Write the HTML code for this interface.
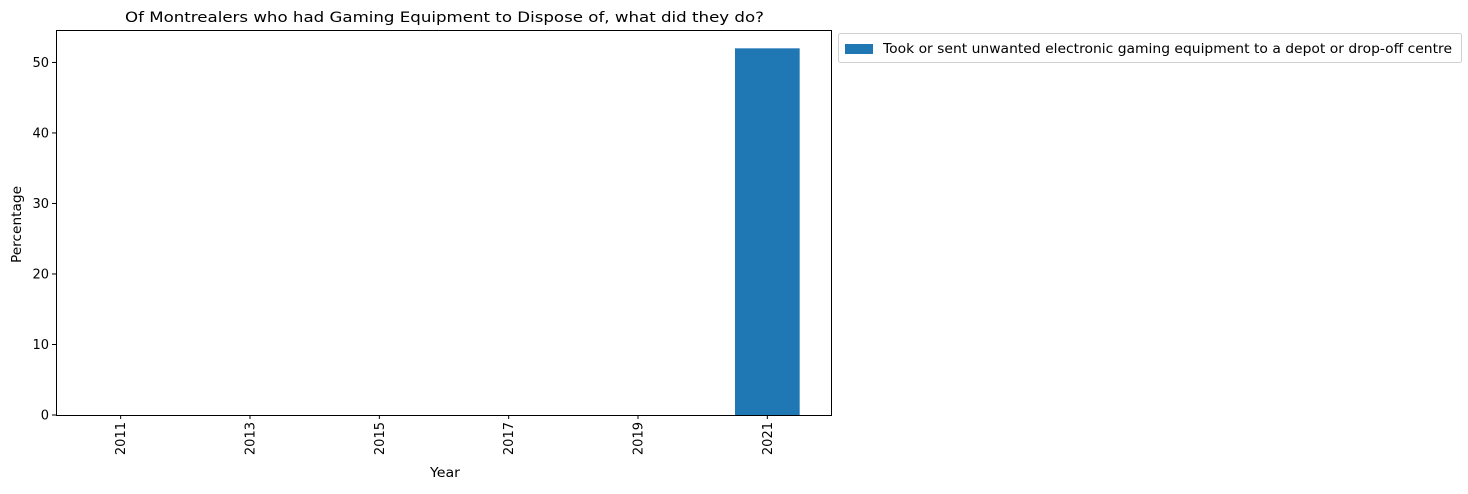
<!DOCTYPE html>
<html><head><meta charset="utf-8"><style>
body{margin:0;background:#fff;font-family:"DejaVu Sans","Liberation Sans",sans-serif;}
</style></head><body>
<svg id="chart" width="1468" height="490" xmlns="http://www.w3.org/2000/svg" font-family="DejaVu Sans, Liberation Sans, sans-serif">
<text x="125" y="22" font-size="14.5" textLength="639" lengthAdjust="spacingAndGlyphs">Of Montrealers who had Gaming Equipment to Dispose of, what did they do?</text>
<g id="plot"></g>
<text x="430" y="477" font-size="13" textLength="30" lengthAdjust="spacingAndGlyphs">Year</text>
<text transform="translate(21,263) rotate(-90)" font-size="13" textLength="77" lengthAdjust="spacingAndGlyphs">Percentage</text>
<g>
<rect x="838.5" y="33.5" width="623" height="29" rx="2" fill="#fff" stroke="#d0d0d0"/>
<rect x="845" y="44" width="28" height="10" fill="#1f77b4"/>
<text x="883" y="53" font-size="13" textLength="569" lengthAdjust="spacingAndGlyphs">Took or sent unwanted electronic gaming equipment to a depot or drop-off centre</text>
</g>
</svg>
<script>
const categories=["2011","2013","2015","2017","2019","2021"];
const values=[0,0,0,0,0,52];
const yTicks=[0,10,20,30,40,50];
const L=56,R=832,T=30,B=415,yMax=54.6;
const ns="http://www.w3.org/2000/svg";
const g=document.getElementById('plot');
const step=(R-L)/categories.length;
const x=i=>L+step*(i+0.5);
const y=v=>B-(v/yMax)*(B-T);
function mk(t,a){const e=document.createElementNS(ns,t);for(const k in a)e.setAttribute(k,a[k]);g.appendChild(e);return e;}
values.forEach((v,i)=>{
 const r=mk('rect',{x:x(i)-step*0.25,y:y(v),width:step*0.5,height:B-y(v),fill:'#1f77b4'});
 
 
});
yTicks.forEach(t=>{
 const l=mk('line',{x1:L-4,x2:L,y1:y(t),y2:y(t),stroke:'#000'});
 
 
 const tx=mk('text',{x:L-7,y:y(t)+4.5,'font-size':13,'text-anchor':'end'});
 tx.textContent=t;
 
 
});
categories.forEach((c,i)=>{
 const l=mk('line',{x1:x(i),x2:x(i),y1:B,y2:B+4,stroke:'#000'});
 
 
 const tx=mk('text',{transform:`translate(${x(i)+4.5},${B+7}) rotate(-90)`,'font-size':13,'text-anchor':'end'});
 tx.textContent=c;
 
 
});
const f=mk('rect',{x:L+0.5,y:T+0.5,width:R-L-1,height:B-T,fill:'none',stroke:'#000'});


</script>
</body></html>
